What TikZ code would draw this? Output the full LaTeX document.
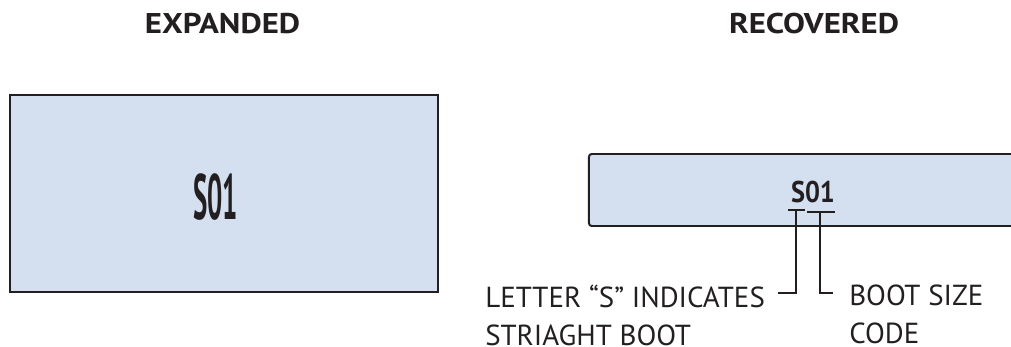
\documentclass[tikz,border=0pt]{standalone}
\usepackage{fontspec}
\setmainfont{PT Sans}
\newfontfamily\headfont[FakeStretch=1.15]{PT Sans}
\usetikzlibrary{positioning}
\definecolor{ink}{HTML}{231F20}
\definecolor{bootblue}{HTML}{D4DFF0}
\tikzset{
  panel/.style={draw=ink,line width=1.4pt,fill=bootblue,inner sep=0pt},
  heading/.style={font=\headfont\fontsize{20.3}{24}\selectfont\bfseries,text=ink,inner sep=0pt},
  callout/.style={font=\fontsize{20.6}{27}\selectfont,text=ink,inner sep=0pt,align=left},
  leader/.style={draw=ink,line width=0.75pt}
}

\begin{document}
\begin{tikzpicture}[x=0.025cm,y=-0.025cm]
\useasboundingbox (0,0) rectangle (1011,347);

% titles
\node[heading] (expanded) at (222.5,24) {EXPANDED};
\node[heading] (recovered) at (814,24) {RECOVERED};

% expanded boot
\node[panel,minimum width=10.7cm,minimum height=4.925cm] (bigbox) at (224,193.5) {};
\node[text=ink,inner sep=0pt,font=\fontsize{45.6}{50}\selectfont\bfseries] (bigcode) at (215.5,197.5) {\scalebox{0.42}[1]{S01}};

% recovered boot
\node[panel,rounded corners=2pt,minimum width=11.025cm,minimum height=1.8cm] (smallbox) at (809.5,190) {};
\node[text=ink,inner sep=0pt,font=\fontsize{21.3}{24}\selectfont\bfseries] (smallcode) at (813,192.5) {\scalebox{0.88}[1]{S01}};

% underlines
\coordinate (sl) at (788,210); \coordinate (sr) at (805,210);
\coordinate (cl) at (807,212); \coordinate (cr) at (835,212);
\coordinate (sdrop) at (796,210); \coordinate (cdrop) at (820,212);
\draw[leader] (sl) -- (sr);
\draw[leader] (cl) -- (cr);

% callouts
\node[callout,anchor=north west] (letter) at (485,285) {LETTER “S” INDICATES\\STRIAGHT BOOT};
\node[callout,anchor=north west] (size) at (849,285) {BOOT SIZE\\CODE};
\coordinate (sfoot) at (778,293);
\coordinate (cfoot) at (833,293);
\draw[leader] (sdrop) |- (sfoot);
\draw[leader] (cdrop) |- (cfoot);
\end{tikzpicture}
\end{document}
